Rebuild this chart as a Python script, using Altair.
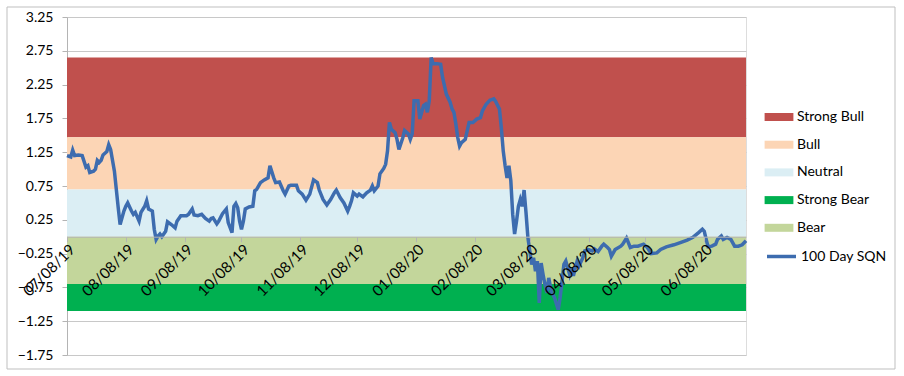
import altair as alt
import pandas as pd

# ---------------- data ----------------
dates = [
    "2019-07-08", "2019-07-10", "2019-07-11", "2019-07-12", "2019-07-14", "2019-07-16",
    "2019-07-18", "2019-07-19", "2019-07-20", "2019-07-22", "2019-07-23", "2019-07-24",
    "2019-07-25", "2019-07-26", "2019-07-27", "2019-07-29", "2019-07-30", "2019-07-31",
    "2019-08-02", "2019-08-03", "2019-08-04", "2019-08-05", "2019-08-07", "2019-08-08",
    "2019-08-09", "2019-08-11", "2019-08-12", "2019-08-13", "2019-08-15", "2019-08-16",
    "2019-08-18", "2019-08-19", "2019-08-20", "2019-08-22", "2019-08-23", "2019-08-24",
    "2019-08-25", "2019-08-26", "2019-08-27", "2019-08-29", "2019-08-30", "2019-09-01",
    "2019-09-03", "2019-09-04", "2019-09-06", "2019-09-09", "2019-09-10", "2019-09-12",
    "2019-09-13", "2019-09-15", "2019-09-17", "2019-09-19", "2019-09-21", "2019-09-22",
    "2019-09-23", "2019-09-25", "2019-09-26", "2019-09-28", "2019-09-30", "2019-10-01",
    "2019-10-03", "2019-10-04", "2019-10-05", "2019-10-06", "2019-10-07", "2019-10-08",
    "2019-10-09", "2019-10-10", "2019-10-12", "2019-10-14", "2019-10-15", "2019-10-16",
    "2019-10-18", "2019-10-20", "2019-10-22", "2019-10-23", "2019-10-25", "2019-10-26",
    "2019-10-28", "2019-10-30", "2019-10-31", "2019-11-02", "2019-11-03", "2019-11-06",
    "2019-11-07", "2019-11-09", "2019-11-11", "2019-11-13", "2019-11-15", "2019-11-17",
    "2019-11-18", "2019-11-20", "2019-11-22", "2019-11-24", "2019-11-26", "2019-11-27",
    "2019-11-29", "2019-12-01", "2019-12-03", "2019-12-04", "2019-12-05", "2019-12-06",
    "2019-12-08", "2019-12-09", "2019-12-11", "2019-12-13", "2019-12-15", "2019-12-16",
    "2019-12-17", "2019-12-19", "2019-12-20", "2019-12-22", "2019-12-23", "2019-12-24",
    "2019-12-25", "2019-12-26", "2019-12-28", "2019-12-29", "2019-12-30", "2020-01-01",
    "2020-01-02", "2020-01-04", "2020-01-05", "2020-01-06", "2020-01-07", "2020-01-09",
    "2020-01-10", "2020-01-12", "2020-01-13", "2020-01-14", "2020-01-15", "2020-01-16",
    "2020-01-17", "2020-01-19", "2020-01-21", "2020-01-22", "2020-01-24", "2020-01-26",
    "2020-01-27", "2020-01-28", "2020-01-29", "2020-01-30", "2020-01-31", "2020-02-01",
    "2020-02-03", "2020-02-05", "2020-02-07", "2020-02-09", "2020-02-11", "2020-02-12",
    "2020-02-14", "2020-02-16", "2020-02-18", "2020-02-19", "2020-02-21", "2020-02-22",
    "2020-02-23", "2020-02-24", "2020-02-25", "2020-02-26", "2020-02-27", "2020-02-28",
    "2020-02-29", "2020-03-01", "2020-03-02", "2020-03-03", "2020-03-04", "2020-03-05",
    "2020-03-06", "2020-03-07", "2020-03-08", "2020-03-09", "2020-03-10", "2020-03-11",
    "2020-03-12", "2020-03-13", "2020-03-14", "2020-03-15", "2020-03-16", "2020-03-17",
    "2020-03-18", "2020-03-19", "2020-03-20", "2020-03-21", "2020-03-23", "2020-03-24",
    "2020-03-25", "2020-03-26", "2020-03-27", "2020-03-28", "2020-03-29", "2020-03-30",
    "2020-03-31", "2020-04-01", "2020-04-02", "2020-04-03", "2020-04-05", "2020-04-06",
    "2020-04-08", "2020-04-10", "2020-04-11", "2020-04-13", "2020-04-15", "2020-04-16",
    "2020-04-18", "2020-04-19", "2020-04-20", "2020-04-22", "2020-04-25", "2020-04-26",
    "2020-04-28", "2020-04-30", "2020-05-02", "2020-05-04", "2020-05-07", "2020-05-09",
    "2020-05-11", "2020-05-14", "2020-05-16", "2020-05-19", "2020-05-23", "2020-05-26",
    "2020-05-30", "2020-06-02", "2020-06-05", "2020-06-07", "2020-06-08", "2020-06-09",
    "2020-06-10", "2020-06-12", "2020-06-14", "2020-06-15", "2020-06-17", "2020-06-18",
    "2020-06-20", "2020-06-22", "2020-06-24", "2020-06-26", "2020-06-28", "2020-06-30",
]
sqn = [
    1.20, 1.18, 1.28, 1.20, 1.21, 1.20,
    1.03, 1.05, 0.95, 0.97, 1.00, 1.13,
    1.10, 1.13, 1.21, 1.26, 1.36, 1.29,
    0.97, 0.70, 0.43, 0.18, 0.38, 0.45,
    0.50, 0.38, 0.33, 0.36, 0.23, 0.36,
    0.45, 0.53, 0.41, 0.38, 0.11, -0.04,
    0.01, 0.04, 0.00, 0.08, 0.22, 0.18,
    0.13, 0.23, 0.31, 0.31, 0.33, 0.41,
    0.32, 0.31, 0.33, 0.27, 0.23, 0.27,
    0.28, 0.19, 0.23, 0.34, 0.41, 0.21,
    0.06, 0.45, 0.49, 0.43, 0.23, 0.11,
    0.23, 0.41, 0.44, 0.45, 0.68, 0.70,
    0.80, 0.84, 0.87, 1.05, 0.87, 0.80,
    0.81, 0.68, 0.63, 0.75, 0.76, 0.76,
    0.68, 0.63, 0.54, 0.63, 0.84, 0.80,
    0.69, 0.55, 0.47, 0.55, 0.65, 0.69,
    0.58, 0.50, 0.38, 0.45, 0.53, 0.65,
    0.60, 0.63, 0.59, 0.65, 0.69, 0.75,
    0.68, 0.75, 0.93, 1.01, 1.07, 1.27,
    1.69, 1.59, 1.54, 1.44, 1.29, 1.46,
    1.57, 1.52, 1.44, 1.52, 2.01, 2.01,
    1.74, 1.94, 1.96, 1.84, 2.01, 2.65,
    2.56, 2.56, 2.55, 2.36, 2.11, 1.99,
    1.89, 1.84, 1.67, 1.47, 1.34, 1.39,
    1.44, 1.69, 1.69, 1.74, 1.76, 1.86,
    1.96, 2.02, 2.04, 2.00, 1.89, 1.61,
    1.27, 1.05, 0.87, 1.05, 0.83, 0.33,
    0.04, 0.23, 0.45, 0.55, 0.45, 0.69,
    0.36, -0.01, -0.21, -0.41, -0.31, -0.51,
    -0.36, -0.98, -0.39, -0.56, -0.71, -0.83,
    -0.61, -0.76, -0.85, -0.90, -1.08, -0.90,
    -0.66, -0.41, -0.36, -0.46, -0.56, -0.46,
    -0.58, -0.46, -0.36, -0.43, -0.31, -0.21,
    -0.19, -0.21, -0.18, -0.22, -0.14, -0.11,
    -0.16, -0.19, -0.29, -0.19, -0.14, -0.11,
    -0.02, -0.16, -0.14, -0.14, -0.11, -0.16,
    -0.25, -0.24, -0.19, -0.15, -0.12, -0.09,
    -0.05, -0.01, 0.06, 0.11, 0.08, -0.04,
    -0.15, -0.14, -0.11, -0.04, 0.01, -0.04,
    -0.01, -0.04, -0.14, -0.14, -0.12, -0.06,
]
series_name = "100 Day SQN"

band_names = ["Strong Bull", "Bull", "Neutral", "Strong Bear", "Bear"]
band_low = [1.47, 0.70, 0.00, -1.10, -0.70]
band_high = [2.65, 1.47, 0.70, -0.70, 0.00]

tick_dates = [
    (2019, 7, 8), (2019, 8, 8), (2019, 9, 8), (2019, 10, 8), (2019, 11, 8), (2019, 12, 8),
    (2020, 1, 8), (2020, 2, 8), (2020, 3, 8), (2020, 4, 8), (2020, 5, 8), (2020, 6, 8),
]
y_ticks = [-1.75, -1.25, -0.75, -0.25, 0.25, 0.75, 1.25, 1.75, 2.25, 2.75, 3.25]

# ---------------- style ----------------
band_colors = ["#C0504D", "#FCD5B5", "#DBEEF4", "#00B050", "#C3D69B"]
line_color = "#3D6CAF"
grey = "#B4B4B4"
FONT = "Lato"
W, H = 679, 338

line_df = pd.DataFrame({"date": dates, "sqn": sqn, "series": series_name})
band_df = pd.DataFrame({
    "band": band_names, "low": band_low, "high": band_high,
    "start": dates[0], "end": dates[-1],
})

x_scale = alt.Scale(type="utc")
y_scale = alt.Scale(domain=[y_ticks[0], y_ticks[-1]], nice=False, zero=False)

# x axis crosses the value axis at 0
zero_offset = -H * (0 - y_ticks[0]) / (y_ticks[-1] - y_ticks[0])

x_axis = alt.Axis(
    values=[alt.DateTime(year=y, month=m, date=d, utc=True) for (y, m, d) in tick_dates],
    labelExpr="utcFormat(datum.value, '%m/%d/%y')",
    labelAngle=-45, labelAlign="right", labelBaseline="top",
    offset=zero_offset,
    grid=False, domainColor=grey, tickColor=grey, tickSize=5,
    labelFont=FONT, labelFontSize=15, labelColor="#000000",
    labelOverlap=False, labelFlush=False, labelBound=False, labelPadding=0,
    zindex=1, title=None,
)
y_axis = alt.Axis(
    values=y_ticks, format=".2f",
    grid=True, gridColor="#C8C8C8", domainColor=grey, tickColor=grey, tickSize=5,
    labelFont=FONT, labelFontSize=14, labelColor="#000000", labelPadding=9,
    title=None,
)

bands = alt.Chart(band_df).mark_rect().encode(
    x=alt.X("start:T", scale=x_scale, axis=x_axis),
    x2="end:T",
    y=alt.Y("low:Q", scale=y_scale, axis=y_axis),
    y2="high:Q",
    color=alt.Color(
        "band:N",
        scale=alt.Scale(domain=band_names, range=band_colors),
        legend=alt.Legend(
            orient="none", legendX=704, legendY=92, title=None,
            symbolType="M-1.8,-0.5H1.8V0.5H-1.8Z", symbolSize=256,
            symbolStrokeWidth=0, symbolOpacity=1,
            labelFont=FONT, labelFontSize=14, labelColor="#000000",
            labelOffset=10, rowPadding=12.7,
        ),
    ),
)

line = alt.Chart(line_df).mark_line(strokeWidth=3.5).encode(
    x=alt.X("date:T", scale=x_scale, axis=x_axis),
    y=alt.Y("sqn:Q", scale=y_scale, axis=y_axis),
    stroke=alt.Stroke(
        "series:N",
        scale=alt.Scale(domain=[series_name], range=[line_color]),
        legend=alt.Legend(
            orient="none", legendX=698, legendY=223, title=None,
            symbolType="stroke", symbolSize=841, symbolStrokeWidth=3.5,
            labelFont=FONT, labelFontSize=14, labelColor="#000000",
            labelOffset=3,
        ),
    ),
)

frame = alt.Chart(pd.DataFrame({"k": [0]})).mark_rect(
    fillOpacity=0, stroke="#BFBFBF", strokeWidth=1
).encode(
    x=alt.value(-60), x2=alt.value(828), y=alt.value(-10), y2=alt.value(352)
)

chart = alt.layer(frame, bands, line).properties(
    width=W, height=H,
    autosize=alt.AutoSizeParams(type="none"),
    padding={"left": 67, "top": 17, "right": 158, "bottom": 21},
).configure_view(strokeWidth=0).configure(background="white")

chart.save("out.html", embed_options={"renderer": "svg", "actions": False})
